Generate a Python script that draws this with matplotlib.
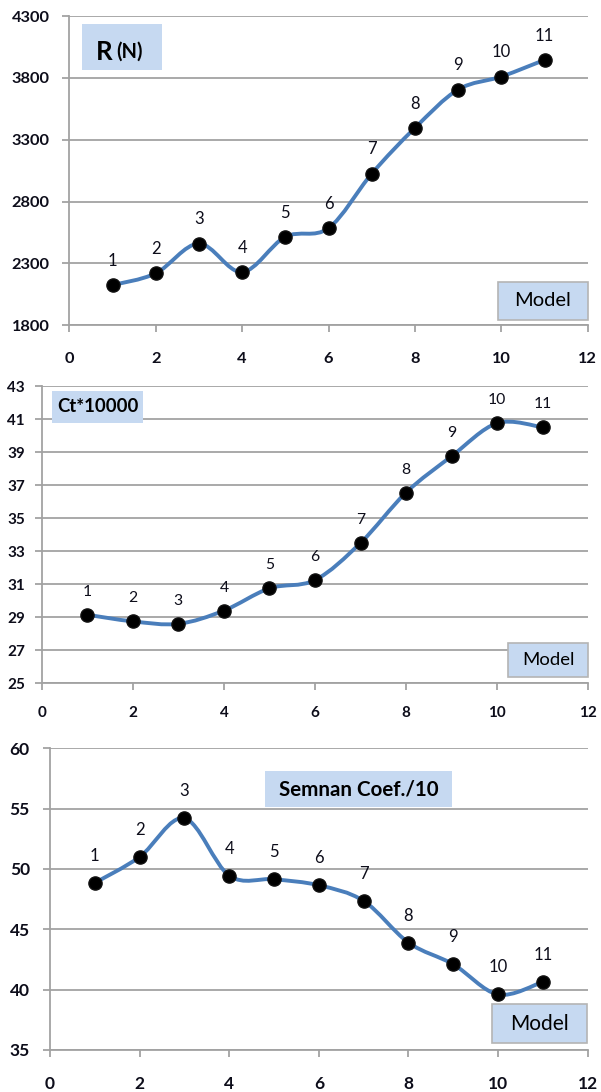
import matplotlib
matplotlib.use("Agg")
import matplotlib.pyplot as plt
from matplotlib.path import Path
from matplotlib.patches import PathPatch, Rectangle
import numpy as np

plt.rcParams['font.family'] = ['Lato', 'DejaVu Sans']

# ---- data ----
models = [1, 2, 3, 4, 5, 6, 7, 8, 9, 10, 11]
r_values = [2125, 2220, 2460, 2230, 2515, 2585, 3025, 3395, 3705, 3810, 3945]
ct_values = [29.15, 28.75, 28.6, 29.4, 30.75, 31.25, 33.5, 36.55, 38.75, 40.75, 40.5]
semnan_values = [48.85, 51.0, 54.2, 49.45, 49.15, 48.65, 47.35, 43.9, 42.1, 39.6, 40.65]

x_ticks = [0, 2, 4, 6, 8, 10, 12]
r_ticks = [1800, 2300, 2800, 3300, 3800, 4300]
ct_ticks = [25, 27, 29, 31, 33, 35, 37, 39, 41, 43]
semnan_ticks = [35, 40, 45, 50, 55, 60]

titles = ["R (N)", "Ct*10000", "Semnan Coef./10"]
legend_text = "Model"

LINE = '#4a7ebb'
GRID = '#a2a2a2'
BOX = '#c6d9f1'
TXT = '#0d0d1a'

W, H = 601, 1092
fig = plt.figure(figsize=(W / 100, H / 100), dpi=100)


def px_axes(l, t, r, b):
    return fig.add_axes([l / W, 1 - b / H, (r - l) / W, (b - t) / H])


def smooth_path(xs, ys):
    p = np.column_stack([xs, ys]).astype(float)
    n = len(p)
    verts = [p[0]]
    codes = [Path.MOVETO]
    for i in range(n - 1):
        p0 = p[i - 1] if i > 0 else p[i]
        p1 = p[i]
        p2 = p[i + 1]
        p3 = p[i + 2] if i + 2 < n else p[i + 1]
        c1 = p1 + (p2 - p0) / 6.0
        c2 = p2 - (p3 - p1) / 6.0
        verts += [c1, c2, p2]
        codes += [Path.CURVE4] * 3
    return Path(verts, codes)


def style(ax, yticks, ylab_size, ypad, xlab_size, xpad):
    ax.set_xlim(0, 12)
    ax.set_ylim(yticks[0], yticks[-1])
    ax.set_xticks(x_ticks)
    ax.set_yticks(yticks)
    for s in ['top', 'right']:
        ax.spines[s].set_visible(False)
    for s in ['left', 'bottom']:
        ax.spines[s].set_color(GRID)
        ax.spines[s].set_linewidth(1.3)
    ax.grid(axis='y', color=GRID, linewidth=1.3)
    ax.set_axisbelow(True)
    ax.tick_params(axis='both', direction='out', length=5, width=1.3, color=GRID)
    ax.tick_params(axis='y', pad=ypad, labelsize=ylab_size, labelcolor=TXT)
    ax.tick_params(axis='x', pad=xpad, labelsize=xlab_size, labelcolor=TXT)
    for lab in ax.get_xticklabels() + ax.get_yticklabels():
        lab.set_fontweight('bold')


def plot_series(ax, vals, lab_size, lab_off):
    ax.add_patch(PathPatch(smooth_path(models, vals), fill=False, edgecolor=LINE,
                           linewidth=2.8, capstyle='round', joinstyle='round', zorder=3))
    ax.plot(models, vals, linestyle='none', marker='o', markersize=9.5,
            markerfacecolor='black', markeredgecolor='#111111', zorder=4)
    for m, v in zip(models, vals):
        ax.annotate(str(m), (m, v), xytext=(0, lab_off), textcoords='offset points',
                    ha='center', va='center', fontsize=lab_size, color=TXT)


def box(l, t, r, b, edge=None):
    rect = Rectangle((l / W, 1 - b / H), (r - l) / W, (b - t) / H, transform=fig.transFigure,
                     facecolor=BOX, edgecolor=edge if edge else 'none',
                     linewidth=1.2 if edge else 0, zorder=5)
    fig.add_artist(rect)


def ftext(x, y, s, size, weight='normal'):
    fig.text(x / W, 1 - y / H, s, fontsize=size, fontweight=weight, color='black',
             ha='center', va='center', zorder=6)


# ---- top: R (N) ----
ax1 = px_axes(69.3, 16, 587.7, 325.3)
style(ax1, r_ticks, 11.8, 9, 11.8, 14)
plot_series(ax1, r_values, 12, 17.5)
box(82, 24, 162, 70)
fig.text(96 / W, 1 - 50 / H, "R", fontsize=18.5, fontweight='bold', ha='left', va='center_baseline', zorder=6)
fig.text(116 / W, 1 - 50 / H, "(N)", fontsize=14.5, fontweight='bold', ha='left', va='center_baseline', zorder=6)
box(497.7, 281.7, 588.3, 320, edge='#b4b4b4')
ftext(543, 301, legend_text, 14.5)

# ---- middle: Ct*10000 ----
ax2 = px_axes(41.7, 386, 588.3, 683.3)
style(ax2, ct_ticks, 11, 7, 11, 11.5)
plot_series(ax2, ct_values, 11.3, 16.5)
box(51.7, 391, 143.3, 422.7)
ftext(97.5, 407, titles[1], 13.4, 'bold')
box(508.3, 642.7, 588.3, 676.7, edge='#b4b4b4')
ftext(548.3, 660, legend_text, 13.3)

# ---- bottom: Semnan Coef./10 ----
ax3 = px_axes(50, 748.3, 587.7, 1050)
style(ax3, semnan_ticks, 12.5, 9.5, 12.5, 14)
plot_series(ax3, semnan_values, 12, 19.5)
box(265, 770.7, 452, 807.3)
ftext(358.5, 789, titles[2], 14.8, 'bold')
box(491.5, 1004, 586.5, 1043.3, edge='#b4b4b4')
ftext(539, 1024, legend_text, 15)

fig.savefig("out.png", dpi=100)
